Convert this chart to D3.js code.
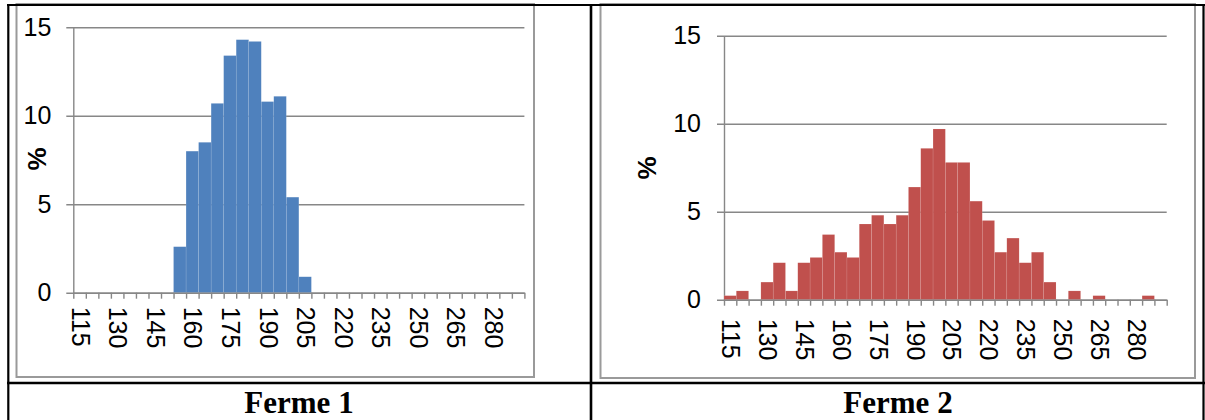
<!DOCTYPE html>
<html>
<head>
<meta charset="utf-8">
<script src="https://cdn.jsdelivr.net/npm/d3@7/dist/d3.min.js"></script>
<style>
  html, body { margin: 0; padding: 0; background: #fff; }
  svg { display: block; }
</style>
</head>
<body>
<svg id="chart" width="1205" height="420"></svg>
<script>
// Weight classes (lower bound of each 5-unit class)
const categories = [115, 120, 125, 130, 135, 140, 145, 150, 155, 160, 165, 170,
  175, 180, 185, 190, 195, 200, 205, 210, 215, 220, 225, 230,
  235, 240, 245, 250, 255, 260, 265, 270, 275, 280, 285, 290];

// Share of animals in each class (%)
const ferme1Values = [0, 0, 0, 0, 0, 0, 0, 0, 2.6, 8.0, 8.5, 10.7,
  13.4, 14.3, 14.2, 10.8, 11.1, 5.4, 0.9, 0, 0, 0, 0, 0,
  0, 0, 0, 0, 0, 0, 0, 0, 0, 0, 0, 0];

const ferme2Values = [0.23, 0.5, 0, 1.0, 2.1, 0.5, 2.1, 2.4, 3.7, 2.7, 2.4, 4.3,
  4.8, 4.3, 4.8, 6.4, 8.6, 9.7, 7.8, 7.8, 5.6, 4.5, 2.7, 3.5,
  2.1, 2.7, 1.0, 0, 0.5, 0, 0.23, 0, 0, 0, 0.23, 0];

const xTickLabels = ["115", "130", "145", "160", "175", "190", "205", "220", "235", "250", "265", "280"];
const yTicks = [0, 5, 10, 15];
const panelTitles = ["Ferme 1", "Ferme 2"];

const svg = d3.select("#chart");
const gridColor = "#878787";
const sansFont = "'Liberation Sans', Arial, sans-serif";
const serifFont = "'Liberation Serif', 'Times New Roman', serif";

function drawPanel(opts) {
  const g = svg.append("g");

  // chart area frame
  g.append("rect")
    .attr("x", opts.frame[0]).attr("y", opts.frame[1])
    .attr("width", opts.frame[2] - opts.frame[0])
    .attr("height", opts.frame[3] - opts.frame[1])
    .attr("fill", "none").attr("stroke", "#9a9a9a").attr("stroke-width", 2);

  const x = d3.scaleBand().domain(categories).range([opts.x0, opts.x1]).padding(0);
  const xb = d3.scaleLinear().domain([0, categories.length]).range([opts.x0, opts.x1]);
  const y = d3.scaleLinear().domain([0, 15]).range([opts.yBottom, opts.yTop]);

  // horizontal gridlines + value axis
  const yAxis = d3.axisLeft(y).tickValues(yTicks)
    .tickSize(-(opts.x1 - opts.x0)).tickPadding(opts.yPad).tickSizeOuter(0);
  const ya = g.append("g").attr("transform", `translate(${opts.x0},0)`).call(yAxis);
  ya.select(".domain").attr("stroke", gridColor).attr("stroke-width", 1.4);
  ya.selectAll(".tick line").attr("stroke", gridColor).attr("stroke-width", 1.4)
    .attr("x1", -7);
  ya.selectAll(".tick text")
    .attr("font-family", sansFont).attr("font-size", 25).attr("fill", "#000");

  // bars
  g.append("g").selectAll("rect")
    .data(opts.values.map((v, i) => ({ c: categories[i], v })))
    .join("rect")
    .attr("x", d => x(d.c))
    .attr("width", x.bandwidth())
    .attr("y", d => y(d.v))
    .attr("height", d => y(0) - y(d.v))
    .attr("fill", opts.color)
    .attr("stroke", "#ffffff").attr("stroke-opacity", 0.2).attr("stroke-width", 0.5);

  // category axis: tick marks on class boundaries
  const xTicks = d3.axisBottom(xb).tickValues(d3.range(categories.length + 1))
    .tickFormat("").tickSize(6).tickSizeOuter(0);
  const xa = g.append("g").attr("transform", `translate(0,${opts.yBottom})`).call(xTicks);
  xa.select(".domain").attr("stroke", gridColor).attr("stroke-width", 1.4);
  xa.selectAll(".tick line").attr("stroke", gridColor).attr("stroke-width", 1.4);

  // category labels, rotated, every third class
  const labelAxis = d3.axisBottom(x)
    .tickValues(categories.filter(c => xTickLabels.includes(String(c))))
    .tickFormat(d => String(d)).tickSize(0).tickSizeOuter(0);
  const la = g.append("g").attr("transform", `translate(0,${opts.yBottom})`).call(labelAxis);
  la.select(".domain").remove();
  la.selectAll(".tick text")
    .attr("font-family", sansFont).attr("font-size", 25).attr("fill", "#000")
    .attr("text-anchor", "start")
    .attr("transform", `translate(1,${opts.labelOffset}) rotate(90)`)
    .attr("x", 0).attr("y", 0).attr("dy", "0.36em");

  // axis title
  g.append("text")
    .attr("transform", `translate(${opts.pctPos[0]},${opts.pctPos[1]}) rotate(-90)`)
    .attr("text-anchor", "middle").attr("dy", "0.35em")
    .attr("font-family", sansFont).attr("font-size", 26).attr("font-weight", "bold")
    .text("%");

  // panel caption
  svg.append("text")
    .attr("x", opts.titleX).attr("y", 413)
    .attr("text-anchor", "middle")
    .attr("font-family", serifFont).attr("font-size", 31).attr("font-weight", "bold")
    .text(opts.title);
}

drawPanel({
  values: ferme1Values, color: "#4F81BD", title: panelTitles[0],
  frame: [16.5, 4, 534, 377],
  x0: 73.3, x1: 524.4, yTop: 27.3, yBottom: 292.7, yPad: 22,
  labelOffset: 14, pctPos: [37, 159], titleX: 299
});

drawPanel({
  values: ferme2Values, color: "#C0504D", title: panelTitles[1],
  frame: [600.5, 4, 1195, 378],
  x0: 724, x1: 1166.7, yTop: 35.7, yBottom: 299.7, yPad: 23,
  labelOffset: 19, pctPos: [647, 168], titleX: 898
});

// table rules
const rules = svg.append("g").attr("stroke", "#000");
rules.append("line").attr("x1", 7).attr("x2", 1205).attr("y1", 5).attr("y2", 5).attr("stroke-width", 2.2);
rules.append("line").attr("x1", 8.3).attr("x2", 8.3).attr("y1", 4).attr("y2", 420).attr("stroke-width", 2.2);
rules.append("line").attr("x1", 591).attr("x2", 591).attr("y1", 4).attr("y2", 420).attr("stroke-width", 2.6);
rules.append("line").attr("x1", 1203.5).attr("x2", 1203.5).attr("y1", 4).attr("y2", 420).attr("stroke-width", 2.2);
rules.append("line").attr("x1", 7).attr("x2", 1205).attr("y1", 383).attr("y2", 383).attr("stroke-width", 2.4);
</script>
</body>
</html>
